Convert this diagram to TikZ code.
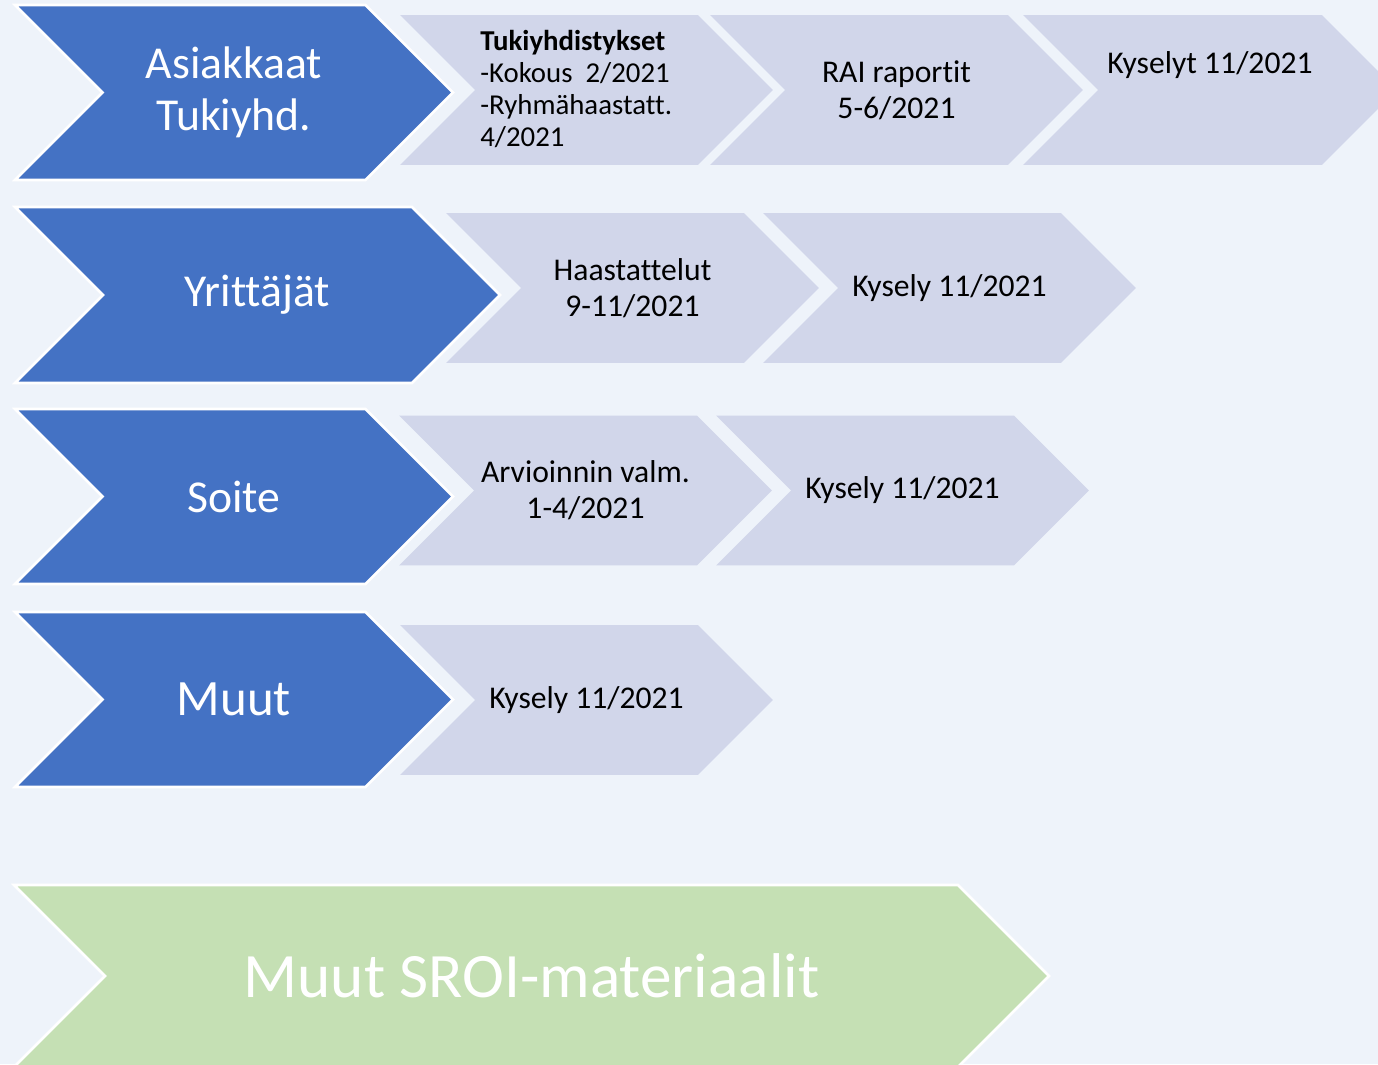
\documentclass[tikz,border=0pt]{standalone}
\usepackage{fontspec}
\setmainfont{Carlito}[Ligatures=CommonOff]
\usetikzlibrary{shapes.symbols}
\definecolor{bg}{RGB}{238,243,250}
\definecolor{chevblue}{RGB}{68,114,196}
\definecolor{chevgray}{RGB}{209,214,234}
\definecolor{chevgreen}{RGB}{197,224,180}
\tikzset{
  chev/.style={signal, signal to=east, signal from=west, signal pointer angle=90,
    inner sep=0pt, outer sep=0pt, align=center},
  mainchev/.style={chev, fill=chevblue, draw=white, line width=1.5pt, text=white,
    minimum width=8.76cm, minimum height=3.5cm, font=\fontsize{26}{29.5}\selectfont},
  subchev/.style={chev, fill=chevgray, text=black, minimum width=7.46cm,
    minimum height=3cm, font=\fontsize{18}{20.4}\selectfont},
}
\begin{document}
\begin{tikzpicture}[x=0.02cm,y=-0.02cm]
\clip (0,0) rectangle (1378,1064);
\fill[bg] (0,0) rectangle (1378,1064);
\useasboundingbox (0,0) rectangle (1378,1064);
\node[mainchev] (asiakkaat) at (234,92.5) {Asiakkaat\\Tukiyhd.};
\node[subchev] (tuki) at (586.5,90) {};
\node[subchev] (rai) at (896.5,90) {RAI raportit\\5-6/2021};
\node[subchev, minimum width=7.48cm] (kyselyt) at (1210,90) {};
\node[anchor=north west, align=left, inner sep=0pt, font=\fontsize{16.4}{18.2}\selectfont] (tukitxt) at (480,30)
  {\textbf{Tukiyhdistykset}\\-Kokous\ \ 2/2021\\-Ryhmähaastatt.\\4/2021};
\node[anchor=base, inner sep=0pt, font=\fontsize{18}{20.4}\selectfont] (kyselyttxt) at (1210,74) {Kyselyt 11/2021};
\node[mainchev, minimum width=9.7cm, minimum height=3.52cm] (yrittajat) at (257.5,295) {Yrittäjät};
\node[subchev] (haast) at (632.5,288) {Haastattelut\\9-11/2021};
\node[subchev] (kysely2) at (949.5,288) {Kysely 11/2021};
\node[mainchev] (soite) at (234,496.5) {Soite};
\node[subchev] (arv) at (585.5,490.5) {Arvioinnin valm.\\1-4/2021};
\node[subchev] (kysely3) at (902.5,490.5) {Kysely 11/2021};
\node[mainchev, font=\fontsize{29}{33}\selectfont] (muut) at (234,699.5) {Muut};
\node[subchev] (kysely4) at (586.5,700) {Kysely 11/2021};
\node[chev, fill=chevgreen, draw=white, line width=1.5pt, text=white, minimum width=20.7cm,
  minimum height=3.64cm, font=\fontsize{36}{40}\selectfont] (sroi) at (531.5,976) {Muut SROI-materiaalit};
\end{tikzpicture}
\end{document}
